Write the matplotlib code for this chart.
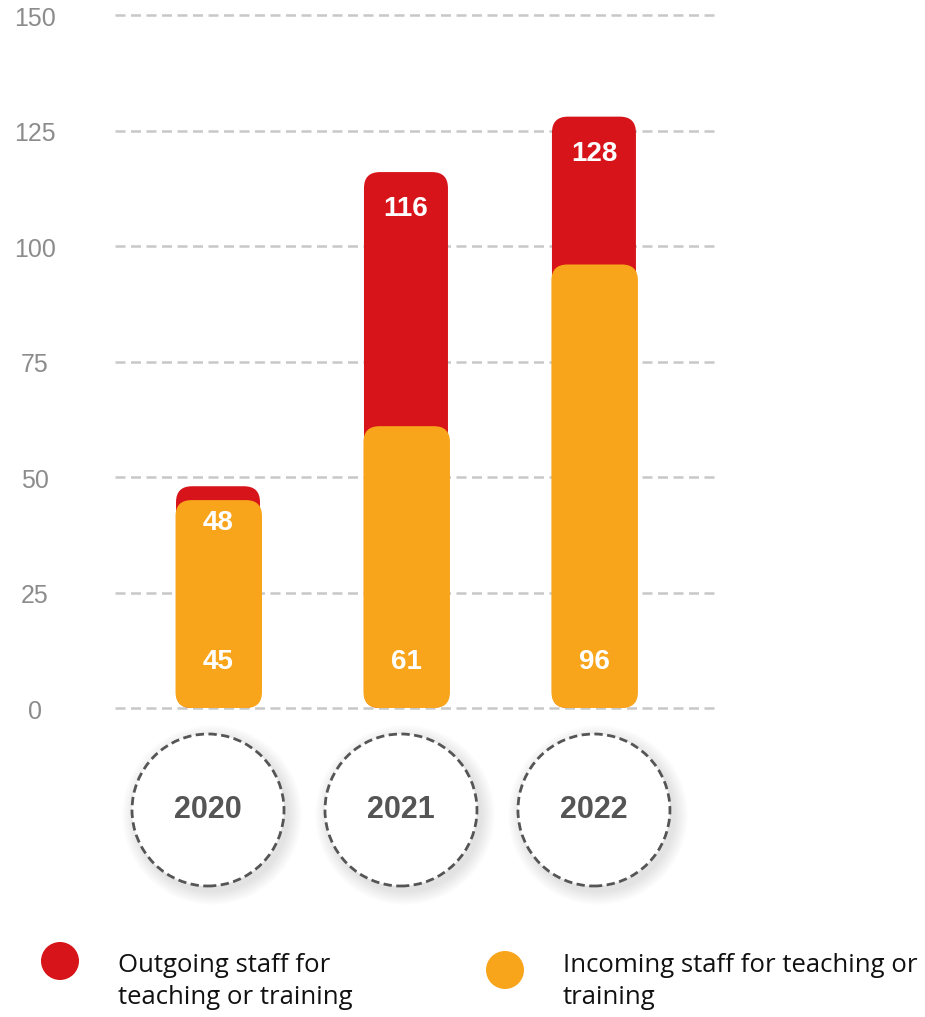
import matplotlib
matplotlib.use('Agg')
from matplotlib import pyplot as plt
from matplotlib.patches import FancyBboxPatch, Circle
from matplotlib.transforms import IdentityTransform

years = ['2020', '2021', '2022']
outgoing = [48, 116, 128]
incoming = [45, 61, 96]
y_ticks = [0, 25, 50, 75, 100, 125, 150]

red = '#D7141A'
orange = '#F8A51C'
legend_labels = ['Outgoing staff for\nteaching or training',
                 'Incoming staff for teaching or\ntraining']

W, H = 925, 1017
fig = plt.figure(figsize=(W / 100, H / 100), dpi=100)
# axes in pixels: x 115..718, y 15..708 (from top)
ax = fig.add_axes([115 / W, 1 - 708 / H, (718 - 115) / W, (708 - 15) / H])
ax.set_xlim(-0.548, 2.66)
ax.set_ylim(0, 150)
for s in ax.spines.values():
    s.set_visible(False)
ax.set_xticks([])
ax.set_yticks([])

for t in y_ticks:
    ax.axhline(t, color='#c8c8c8', lw=1.8, dashes=(4, 2.2), zorder=0, clip_on=False)
    ax.text(-0.548 - 80 / 188, t - 0.8, str(t), ha='center', va='center',
            fontsize=18, color='#8c8c8c', family='Liberation Sans')

# rounded bars, aspect so corners stay round in pixels
px_x = 1 / 188
px_y = 150 / 693
aspect = px_y / px_x
bw = 84 * px_x
r = 16 * px_x

for i in range(len(years)):
    rb = FancyBboxPatch((i - bw / 2, 0), bw, outgoing[i],
                        boxstyle='round,pad=0,rounding_size=%f' % r,
                        mutation_aspect=aspect, fc=red, ec='none', zorder=2)
    ax.add_patch(rb)
    ob = FancyBboxPatch((i - bw / 2 - 0.5 * px_x, 0), bw + 2.5 * px_x, incoming[i],
                        boxstyle='round,pad=0,rounding_size=%f' % r,
                        mutation_aspect=aspect, fc=orange, ec='none', zorder=3)
    ax.add_patch(ob)
    ax.text(i, outgoing[i] - 8, str(outgoing[i]), ha='center', va='center',
            fontsize=20, fontweight='bold', color='white', family='Liberation Sans', zorder=4)
    ax.text(i, 10, str(incoming[i]), ha='center', va='center',
            fontsize=20, fontweight='bold', color='white', family='Liberation Sans', zorder=4)

# year circles below the axis
fig.canvas.draw()
for i, yr in enumerate(years):
    cx, _ = ax.transData.transform((i, 0))
    cx -= 10 - 5 * i
    cy = H - 810
    # soft shadow
    for k in range(14):
        sh = Circle((cx + 4, cy - 5), 76 + 14 - k, transform=IdentityTransform(),
                    fc='black', ec='none', alpha=0.009, zorder=1)
        fig.add_artist(sh)
    c = Circle((cx, cy), 76, transform=IdentityTransform(), fc='white',
               ec='#555555', lw=2, ls=(0, (3, 1.6)), zorder=2)
    fig.add_artist(c)
    fig.text(cx / W, cy / H, yr, ha='center', va='center', fontsize=22,
             fontweight='bold', color='#555555', family='Liberation Sans', zorder=3)

# legend
for (lx, ly, col), lab in zip([(60, 961, red), (505, 970, orange)], legend_labels):
    fig.add_artist(Circle((lx, H - ly), 19, transform=IdentityTransform(),
                          fc=col, ec='none'))
    fig.text((lx + 58) / W, 1 - 953 / H, lab, ha='left', va='top', fontsize=18.5,
             color='#111111', family='Open Sans', linespacing=1.38)

fig.savefig('out.png', dpi=100)
